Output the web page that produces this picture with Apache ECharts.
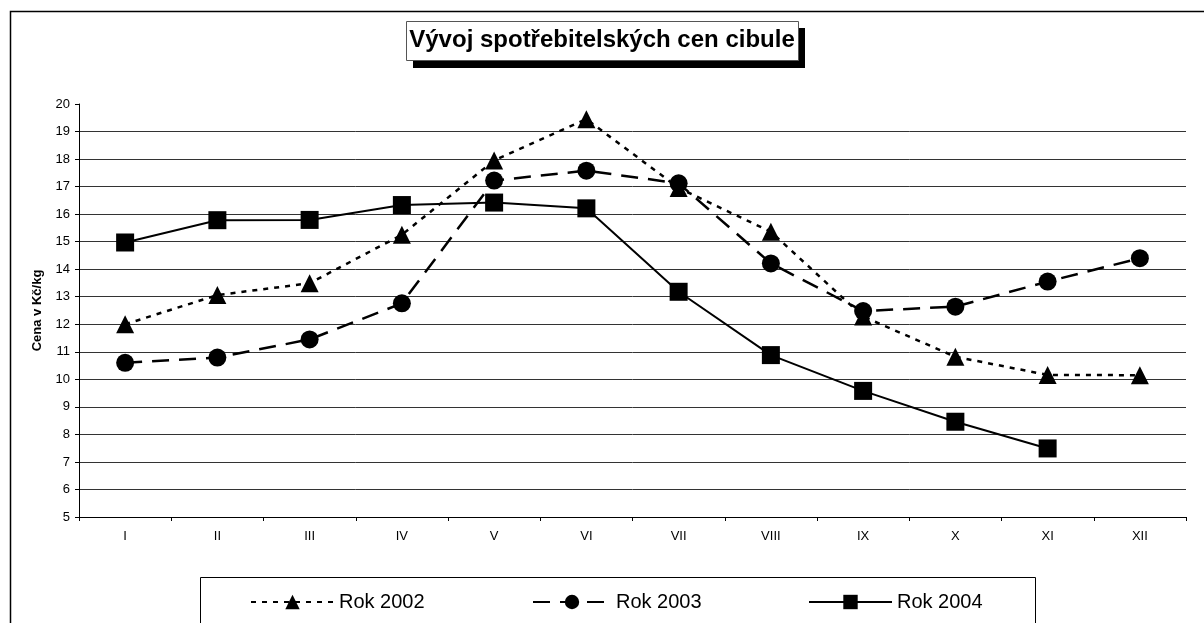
<!DOCTYPE html>
<html>
<head>
<meta charset="utf-8">
<script src="https://cdn.jsdelivr.net/npm/echarts@6/dist/echarts.min.js"></script>
<style>
html,body{margin:0;padding:0;background:#fff;}
#chart{width:1204px;height:623px;}
</style>
</head>
<body>
<div id="chart"></div>
<script>
// mesice
var mesice=['I','II','III','IV','V','VI','VII','VIII','IX','X','XI','XII'];
// ceny v Kc/kg
var rok2002=[12.0,13.06,13.49,15.25,17.95,19.45,16.95,15.36,12.28,10.82,10.16,10.15];
var rok2003=[10.6,10.79,11.45,12.76,17.22,17.58,17.12,14.21,12.48,12.64,13.55,14.4];
var rok2004=[14.97,15.78,15.79,16.33,16.42,16.21,13.18,10.88,9.58,8.46,7.49,null];
var nazvy=['Rok 2002','Rok 2003','Rok 2004'];

var font='"Liberation Sans", Arial, sans-serif';

var myChart=echarts.init(document.getElementById('chart'));

var legenda=function(name,left,sirka){
    return {
        data:[name],
        left:left,
        top:592,
        padding:0,
        itemWidth:sirka,
        itemHeight:18,
        textStyle:{fontFamily:font,fontSize:20,color:'#000'},
        selectedMode:false
    };
};

var option={
    animation:false,
    backgroundColor:'#fff',
    title:{
        text:'Vývoj spotřebitelských cen cibule',
        left:'center',
        top:28,
        padding:0,
        textStyle:{fontFamily:font,fontSize:24,fontWeight:'bold',color:'#000'}
    },
    legend:[
        legenda('Rok 2002',250,83),
        legenda('Rok 2003',532,78),
        legenda('Rok 2004',808,83)
    ],
    graphic:[
        {//ramecek grafu
            type:'rect',
            shape:{x:10.5,y:11.5,width:1300,height:700},
            style:{fill:null,stroke:'#000',lineWidth:1.5},
            silent:true,
            z:-10
        },
        {//stin titulku
            type:'rect',
            shape:{x:413,y:28,width:392,height:40},
            style:{fill:'#000'},
            silent:true,
            z:-5
        },
        {//ramecek titulku
            type:'rect',
            shape:{x:406.5,y:21.5,width:392,height:39},
            style:{fill:'#fff',stroke:'#555',lineWidth:1},
            silent:true,
            z:-4
        },
        {//ramecek legendy
            type:'rect',
            shape:{x:200.5,y:577.5,width:835,height:100},
            style:{fill:null,stroke:'#000',lineWidth:1},
            silent:true
        }
    ],
    grid:{left:79,right:18,top:104,bottom:106,containLabel:false},
    xAxis:{
        type:'category',
        data:mesice,
        boundaryGap:true,
        axisLine:{lineStyle:{color:'#000',width:1}},
        axisTick:{show:true,length:4,lineStyle:{color:'#000'}},
        axisLabel:{fontFamily:font,fontSize:13,color:'#000',margin:13}
    },
    yAxis:{
        type:'value',
        min:5,
        max:20,
        interval:1,
        name:'Cena v Kč/kg',
        nameLocation:'middle',
        nameGap:35,
        nameTextStyle:{fontFamily:font,fontSize:13,fontWeight:'bold',color:'#000'},
        axisLine:{show:true,lineStyle:{color:'#000',width:1}},
        axisTick:{show:true,length:4,lineStyle:{color:'#000'}},
        axisLabel:{fontFamily:font,fontSize:13,color:'#000',margin:9},
        splitLine:{show:true,showMaxLine:false,lineStyle:{color:'#333',width:1}}
    },
    series:[
        {
            name:nazvy[0],
            type:'line',
            data:rok2002,
            symbol:'triangle',
            symbolSize:18,
            itemStyle:{color:'#000'},
            lineStyle:{color:'#000',width:2.5,type:[5,6]}
        },
        {
            name:nazvy[1],
            type:'line',
            data:rok2003,
            symbol:'circle',
            symbolSize:18,
            itemStyle:{color:'#000'},
            lineStyle:{color:'#000',width:2.5,type:[17,10]}
        },
        {
            name:nazvy[2],
            type:'line',
            data:rok2004,
            symbol:'rect',
            symbolSize:18,
            itemStyle:{color:'#000'},
            lineStyle:{color:'#000',width:2}
        }
    ]
};
myChart.setOption(option);
</script>
</body>
</html>
